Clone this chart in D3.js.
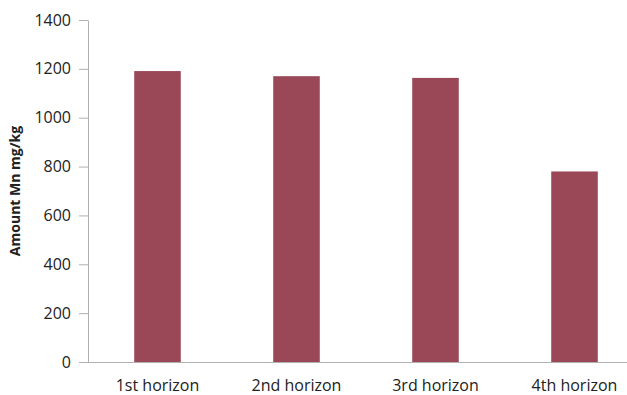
<!DOCTYPE html>
<html>
<head>
<meta charset="utf-8">
<script src="https://cdn.jsdelivr.net/npm/d3@7"></script>
<style>
  body { margin: 0; background: #fff; }
  text { font-family: "Open Sans", Lato, sans-serif; fill: #222; }
</style>
</head>
<body>
<div id="chart"></div>
<script>
// chart data
var horizons = ['1st horizon', '2nd horizon', '3rd horizon', '4th horizon'];
var amountMn = [1191, 1170, 1163, 780];
var yTicks = [0, 200, 400, 600, 800, 1000, 1200, 1400];

var svgWidth = 627;
var svgHeight = 395;
var marginLeft = 88, marginTop = 20, plotBottom = 362, band = 139;

var svg = d3.select('#chart')
  .append('svg')
  .attr('width', svgWidth)
  .attr('height', svgHeight);

var x = d3.scaleBand()
  .domain(horizons)
  .range([marginLeft, marginLeft + band * horizons.length])
  .paddingInner(0.665)
  .paddingOuter(0.3325);

var y = d3.scaleLinear()
  .domain([0, 1400])
  .range([plotBottom, marginTop]);

// bars
svg.selectAll('rect')
  .data(amountMn)
  .enter()
  .append('rect')
  .attr('x', function (d, i) { return x(horizons[i]); })
  .attr('width', x.bandwidth())
  .attr('y', function (d) { return y(d); })
  .attr('height', function (d) { return plotBottom - y(d); })
  .style('fill', '#9a4858');

// y axis
var yAxis = svg.append('g')
  .attr('transform', 'translate(' + marginLeft + ',0)')
  .call(d3.axisLeft(y).tickValues(yTicks).tickFormat(d3.format('d'))
    .tickSize(9).tickPadding(8).tickSizeOuter(0));
yAxis.select('.domain').attr('stroke', '#b0b0b0');
yAxis.selectAll('.tick line').attr('stroke', '#b0b0b0');
yAxis.selectAll('.tick text').style('font-size', '16px');

// x axis line
svg.append('line')
  .attr('x1', marginLeft).attr('x2', svgWidth)
  .attr('y1', plotBottom + 0.5).attr('y2', plotBottom + 0.5)
  .attr('stroke', '#b0b0b0');

// x labels
svg.selectAll('.xlab')
  .data(horizons)
  .enter()
  .append('text')
  .attr('class', 'xlab')
  .attr('x', function (d) { return x(d) + x.bandwidth() / 2; })
  .attr('y', 391)
  .attr('text-anchor', 'middle')
  .style('font-size', '16px')
  .text(function (d) { return d; });

// y axis title
svg.append('text')
  .attr('transform', 'translate(20,191) rotate(-90)')
  .attr('text-anchor', 'middle')
  .style('font-size', '14px')
  .style('font-weight', 'bold')
  .text('Amount Mn mg/kg');
</script>
</body>
</html>
